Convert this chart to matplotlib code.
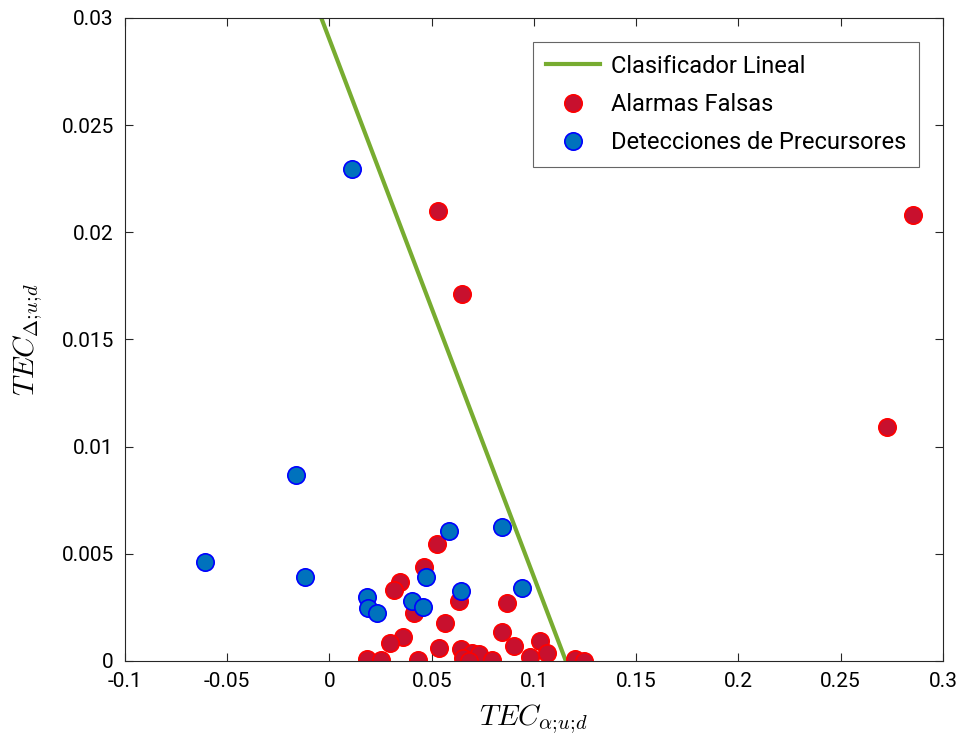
import matplotlib
matplotlib.use("Agg")
import matplotlib.pyplot as plt

plt.rcParams['font.family'] = ['Roboto', 'DejaVu Sans']
plt.rcParams['mathtext.fontset'] = 'cm'

# Clasificador lineal (extremos)
clf_x = [-0.004, 0.1156]
clf_y = [0.03, 0.0]

# Alarmas falsas
fa_x = [0.0532, 0.0649, 0.2854, 0.2727, 0.0528, 0.0460, 0.0345, 0.0314, 0.0411,
        0.0634, 0.0868, 0.0564, 0.0845, 0.0358, 0.0294, 0.0537, 0.0902, 0.1028,
        0.0645, 0.1065, 0.0979, 0.0699, 0.0732, 0.0182, 0.0252, 0.0431, 0.0655,
        0.0683, 0.0797, 0.1200, 0.1247]
fa_y = [0.0210, 0.01712, 0.02081, 0.01092, 0.00546, 0.00440, 0.00370, 0.00331, 0.00223,
        0.00281, 0.00272, 0.00179, 0.00134, 0.00111, 0.00083, 0.00062, 0.00071, 0.00092,
        0.00055, 0.00036, 0.00020, 0.00036, 0.00031, 0.00008, 0.00005, 0.00005, 0.00013,
        0.00001, 0.00005, 0.00008, 0.00001]

# Detecciones de precursores
dp_x = [0.0112, -0.0166, -0.061, -0.0119, 0.0182, 0.0187, 0.0233, 0.0406, 0.0455,
        0.0473, 0.0585, 0.0642, 0.0842, 0.0940]
dp_y = [0.02296, 0.00868, 0.00462, 0.00393, 0.00300, 0.00249, 0.00223, 0.00279, 0.00253,
        0.00391, 0.00608, 0.00328, 0.00627, 0.00341]

fig = plt.figure(figsize=(9.71, 7.40), dpi=100)
ax = fig.add_axes([0.1287, 0.1068, 0.8424, 0.8689])

ax.plot(clf_x, clf_y, color='#77AC30', lw=3, label='Clasificador Lineal')
ax.plot(fa_x, fa_y, 'o', ms=12.5, mfc='#C8102E', mec='#FF0000', mew=1.2,
        label='Alarmas Falsas')
ax.plot(dp_x, dp_y, 'o', ms=12.5, mfc='#0072BD', mec='#0000FF', mew=1.2,
        label='Detecciones de Precursores')

ax.set_xlim(-0.1, 0.3)
ax.set_ylim(0, 0.03)
ax.set_xticks([-0.1, -0.05, 0, 0.05, 0.1, 0.15, 0.2, 0.25, 0.3])
ax.set_xticklabels(['-0.1', '-0.05', '0', '0.05', '0.1', '0.15', '0.2', '0.25', '0.3'])
ax.set_yticks([0, 0.005, 0.01, 0.015, 0.02, 0.025, 0.03])
ax.set_yticklabels(['0', '0.005', '0.01', '0.015', '0.02', '0.025', '0.03'])
ax.tick_params(direction='in', top=True, right=True, labelsize=15, length=6,
               color='#262626', pad=8)
for s in ax.spines.values():
    s.set_color('#262626')
    s.set_linewidth(0.8)

ax.set_xlabel(r'$TEC_{\alpha;\!u;\!d}$', fontsize=21, labelpad=8)
ax.set_ylabel(r'$TEC_{\Delta;\!u;\!d}$', fontsize=21, labelpad=12)

leg = ax.legend(loc='upper right', fontsize=17, fancybox=False, framealpha=1,
                edgecolor='#666666', borderaxespad=1.0, handlelength=2.3,
                handletextpad=0.45, labelspacing=0.65, borderpad=0.55)
leg.get_frame().set_linewidth(0.8)

fig.savefig('out.png', dpi=100)
